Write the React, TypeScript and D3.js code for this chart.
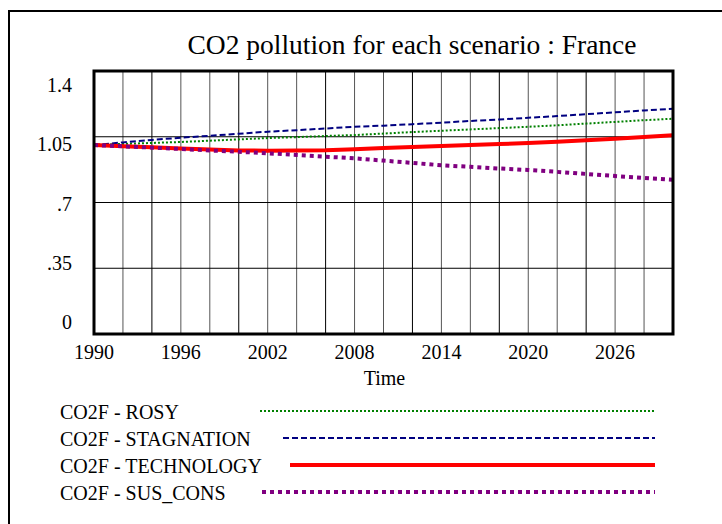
import * as d3 from "d3";

// years sampled every 2 years
const years = d3.range(1990, 2031, 2);

const rosy = [1.006, 1.012, 1.017, 1.022, 1.029, 1.036, 1.043, 1.048, 1.054, 1.059, 1.067, 1.075, 1.082, 1.089, 1.096, 1.103, 1.111, 1.12, 1.129, 1.138, 1.146];
const stagnation = [1.006, 1.02, 1.033, 1.045, 1.055, 1.066, 1.077, 1.085, 1.094, 1.103, 1.109, 1.117, 1.125, 1.134, 1.142, 1.151, 1.16, 1.17, 1.18, 1.19, 1.199];
const technology = [1.006, 1.0, 0.994, 0.988, 0.982, 0.977, 0.976, 0.977, 0.978, 0.984, 0.99, 0.996, 1.001, 1.006, 1.011, 1.017, 1.023, 1.031, 1.04, 1.049, 1.058];
const susCons = [1.006, 0.999, 0.992, 0.985, 0.977, 0.97, 0.962, 0.953, 0.944, 0.935, 0.923, 0.911, 0.898, 0.89, 0.881, 0.873, 0.863, 0.852, 0.841, 0.831, 0.821];

const yTicks = [0, 0.35, 0.7, 1.05, 1.4];
const yTickLabels = ["0", ".35", ".7", "1.05", "1.4"];
const xTickLabels = [1990, 1996, 2002, 2008, 2014, 2020, 2026];

const series = [
  { name: "CO2F - ROSY", values: rosy, color: "#008000", width: 2, dash: "2,2", legendX: 260 },
  { name: "CO2F - STAGNATION", values: stagnation, color: "#000080", width: 2, dash: "6,3", legendX: 283 },
  { name: "CO2F - TECHNOLOGY", values: technology, color: "#ff0000", width: 4, dash: null, legendX: 290 },
  { name: "CO2F - SUS_CONS", values: susCons, color: "#800080", width: 4, dash: "4,4", legendX: 262 },
];

const W = 722;
const H = 524;
const plot = { left: 94, right: 673, top: 71, bottom: 334 };
const serif = { fontFamily: '"Liberation Serif"' };

export default function App() {
  const x = d3.scaleLinear().domain([1990, 2030]).range([plot.left, plot.right]);
  const y = d3.scaleLinear().domain([0, 1.4]).range([plot.bottom, plot.top]);
  // tick labels sit in a slightly inset band, as in the original
  const yLab = d3.scaleLinear().domain([0, 1.4]).range([322, 85]);

  const line = d3
    .line<number>()
    .x((_, i) => x(years[i]))
    .y((d) => y(d));

  const legendY = d3.scalePoint<string>().domain(series.map((s) => s.name)).range([412, 493]);

  return (
    <svg width={W} height={H} style={{ position: "fixed", left: 0, top: 0, display: "block", background: "#fff" }}>
      <rect x={9} y={11} width={800} height={600} fill="#fff" stroke="#000" strokeWidth={2} />

      <text x={412} y={54} textAnchor="middle" fontSize={27.5} fill="#000" style={serif}>
        CO2 pollution for each scenario : France
      </text>

      {/* grid */}
      {years.slice(1, -1).map((yr, i) => (
        <line
          key={yr}
          x1={x(yr)}
          x2={x(yr)}
          y1={plot.top}
          y2={plot.bottom}
          stroke={i % 3 === 1 ? "#000" : "#555"}
          strokeWidth={1}
        />
      ))}
      {yTicks.slice(1, -1).map((t) => (
        <line key={t} x1={plot.left} x2={plot.right} y1={y(t)} y2={y(t)} stroke="#000" strokeWidth={1} />
      ))}

      {/* series */}
      {series.map((s) => (
        <path
          key={s.name}
          d={line(s.values) || ""}
          fill="none"
          stroke={s.color}
          strokeWidth={s.width}
          strokeDasharray={s.dash || undefined}
        />
      ))}

      <rect
        x={plot.left}
        y={plot.top}
        width={plot.right - plot.left}
        height={plot.bottom - plot.top}
        fill="none"
        stroke="#000"
        strokeWidth={3}
      />

      {/* y labels */}
      {yTicks.map((t, i) => (
        <text key={t} x={72} y={yLab(t)} dy="0.35em" textAnchor="end" fontSize={20} fill="#000" style={serif}>
          {yTickLabels[i]}
        </text>
      ))}

      {/* x labels */}
      {xTickLabels.map((t) => (
        <text key={t} x={x(t)} y={359} textAnchor="middle" fontSize={20} fill="#000" style={serif}>
          {t}
        </text>
      ))}
      <text x={(plot.left + plot.right) / 2 + 1} y={385} textAnchor="middle" fontSize={20} fill="#000" style={serif}>
        Time
      </text>

      {/* legend */}
      {series.map((s) => {
        const ly = legendY(s.name) || 0;
        return (
          <g key={s.name}>
            <text x={60} y={ly} dy="0.35em" fontSize={20} fill="#000" style={serif}>
              {s.name}
            </text>
            <line
              x1={s.legendX}
              x2={655}
              y1={ly - 1}
              y2={ly - 1}
              stroke={s.color}
              strokeWidth={s.width}
              strokeDasharray={s.dash || undefined}
            />
          </g>
        );
      })}
    </svg>
  );
}
